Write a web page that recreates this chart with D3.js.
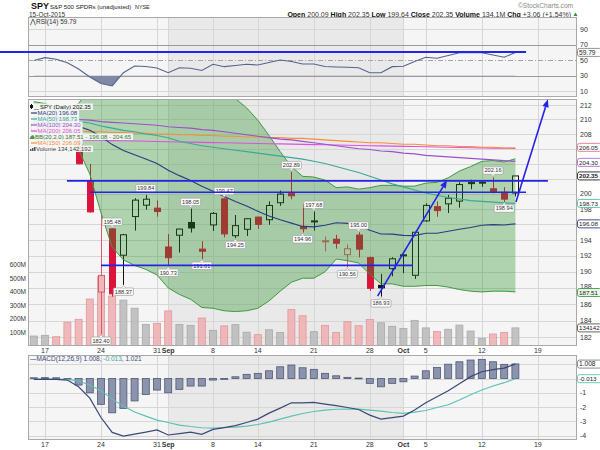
<!DOCTYPE html>
<html><head><meta charset="utf-8">
<script src="https://cdn.jsdelivr.net/npm/d3@7"></script>
<style>body{margin:0;background:#fff}svg{display:block;font-family:"Liberation Sans",Arial,sans-serif}</style>
</head><body><svg id="c" width="600" height="450"></svg>
<script>
// ---------------- DATA ----------------
const dates = ["2015-08-14","2015-08-17","2015-08-18","2015-08-19","2015-08-20","2015-08-21","2015-08-24","2015-08-25","2015-08-26","2015-08-27","2015-08-28","2015-08-31","2015-09-01","2015-09-02","2015-09-03","2015-09-04","2015-09-08","2015-09-09","2015-09-10","2015-09-11","2015-09-14","2015-09-15","2015-09-16","2015-09-17","2015-09-18","2015-09-21","2015-09-22","2015-09-23","2015-09-24","2015-09-25","2015-09-28","2015-09-29","2015-09-30","2015-10-01","2015-10-02","2015-10-05","2015-10-06","2015-10-07","2015-10-08","2015-10-09","2015-10-12","2015-10-13","2015-10-14","2015-10-15"];
const open  = [208.43,208.71,210.26,209.09,206.51,201.73,187.49,195.43,192.08,197.02,198.50,198.11,193.12,194.62,196.26,192.85,195.94,199.32,194.56,195.38,196.95,196.61,198.82,200.02,195.71,196.44,193.88,194.11,192.15,194.64,191.78,188.32,190.39,192.08,189.57,196.46,198.31,198.67,199.03,201.49,201.42,200.65,200.18,200.09];
const high  = [209.51,210.59,210.68,210.01,208.29,203.94,197.48,195.48,194.79,199.42,199.84,199.13,194.77,195.46,198.05,193.86,197.61,199.47,197.22,196.82,197.01,198.99,200.41,202.89,198.68,197.68,194.46,194.67,193.45,195.00,191.91,189.74,191.83,192.49,195.03,198.74,198.99,199.83,201.52,201.84,201.76,202.16,200.87,202.35];
const low   = [208.26,208.16,209.70,207.35,203.90,197.52,182.40,186.92,188.37,195.21,197.92,197.01,190.73,192.42,194.96,191.61,195.17,194.35,194.25,194.53,195.43,195.96,198.41,199.28,194.96,195.21,192.56,192.91,190.56,191.81,187.64,186.93,189.44,189.82,189.12,196.33,197.00,197.48,198.17,200.58,200.91,200.05,198.94,199.64];
const close = [209.42,210.59,209.98,208.28,203.97,197.63,189.55,187.27,194.68,199.16,199.28,197.67,191.77,195.41,195.55,192.59,197.43,194.79,195.85,196.74,196.01,198.46,199.95,199.73,195.45,196.46,193.91,193.60,192.90,192.85,187.95,188.01,191.63,192.13,195.00,198.47,197.79,199.41,201.21,201.33,201.52,200.25,199.29,202.35];
const closeBefore = 208.66;
const volumeM = [74,79,69,176,198,348,513,370,340,280,160,168,260,160,153,207,116,149,158,102,84,120,100,270,224,106,153,100,180,150,196,172,146,130,190,134,108,124,155,111,57,89,101,134.1];
const ma20  = [209.69,209.59,209.51,209.35,209.04,208.52,207.66,206.56,205.75,205.17,204.61,204.00,203.12,202.39,201.75,200.98,200.32,199.63,198.98,198.38,197.71,197.10,196.60,196.17,195.75,195.69,195.91,196.22,196.14,195.82,195.25,194.77,194.76,194.60,194.57,194.87,194.88,195.12,195.38,195.61,195.89,195.98,195.94,196.08];
const ma50  = [209.9,209.9,209.9,209.8,209.7,209.5,209.1,208.8,208.5,208.3,208.0,207.8,207.5,207.0,206.7,206.4,206.2,206.0,205.8,205.6,205.4,205.2,205.0,204.8,204.6,204.3,204.0,203.6,203.2,202.8,202.3,201.8,201.3,200.9,200.5,200.1,199.8,199.5,199.3,199.1,199.0,198.9,198.8,198.73];
const ma100 = [210.3,210.2,210.2,210.1,210.0,209.9,209.7,209.6,209.5,209.4,209.3,209.2,209.0,208.9,208.8,208.6,208.5,208.3,208.1,207.9,207.7,207.5,207.3,207.2,207.0,206.8,206.6,206.4,206.2,206.0,205.9,205.7,205.6,205.4,205.3,205.1,205.0,204.9,204.8,204.7,204.6,204.5,204.4,204.30];
const ma150 = [208.5,208.5,208.5,208.4,208.4,208.3,208.3,208.2,208.2,208.1,208.1,208.0,208.0,207.9,207.9,207.8,207.8,207.7,207.7,207.6,207.6,207.5,207.5,207.4,207.4,207.3,207.2,207.1,207.0,206.9,206.8,206.8,206.7,206.6,206.6,206.5,206.4,206.4,206.3,206.3,206.2,206.2,206.1,206.09];
const ma200 = [207.3,207.28,207.25,207.22,207.2,207.17,207.14,207.1,207.07,207.04,207.01,206.98,206.95,206.92,206.89,206.86,206.83,206.8,206.77,206.74,206.71,206.68,206.65,206.62,206.59,206.56,206.53,206.5,206.47,206.44,206.41,206.38,206.35,206.32,206.29,206.26,206.23,206.2,206.17,206.14,206.11,206.08,206.06,206.05];
const bbUpper = [212.47,212.2,211.7,211.4,212.2,214.4,217.8,220.0,220.0,219.5,218.9,218.4,218.3,217.5,216.9,216.4,215.1,214.1,212.9,211.6,209.9,207.8,205.6,203.6,202.3,202.2,201.8,200.8,200.9,200.6,200.8,201.1,201.1,201.0,201.0,201.4,201.5,202.1,203.0,203.6,204.3,204.4,204.2,204.65];
const bbLower = [206.91,207.0,207.3,207.3,205.87,202.6,197.5,193.1,191.5,190.8,190.3,189.6,188.0,187.2,186.6,185.6,185.5,185.2,185.1,185.2,185.5,186.4,187.6,188.7,189.2,189.2,190.0,191.6,191.4,191.1,189.7,188.5,188.5,188.2,188.2,188.3,188.3,188.1,187.8,187.6,187.5,187.6,187.6,187.51];
const rsi14 = [49.4,53,50.9,46.4,38.4,28.1,19.7,16.5,33.6,42.3,41.6,39.7,33.6,40,39.3,36.5,44.5,41.4,42.9,44.5,43.5,46.8,50,48,44.8,44.8,41.6,41,40.6,40,33.6,33.6,41.4,41.9,48,53.5,52.2,55.8,59.4,59.4,59.4,56.5,53.5,59.79];
const macdLine = [-0.06,-0.04,-0.06,-0.11,-0.58,-1.37,-2.73,-3.77,-4.03,-3.89,-3.75,-3.6,-3.95,-3.85,-3.75,-3.9,-3.56,-3.43,-3.29,-3.08,-2.84,-2.42,-2.07,-1.70,-1.70,-1.67,-1.79,-1.90,-2.03,-2.17,-2.56,-2.84,-2.73,-2.63,-2.21,-1.69,-1.27,-0.85,-0.36,0.13,0.47,0.62,0.73,1.008];
const macdSignal = [-0.06,-0.06,-0.06,-0.06,-0.18,-0.46,-0.85,-1.44,-1.93,-2.35,-2.63,-2.91,-3.08,-3.26,-3.36,-3.44,-3.47,-3.43,-3.40,-3.33,-3.22,-3.05,-2.84,-2.63,-2.45,-2.31,-2.21,-2.15,-2.14,-2.14,-2.21,-2.28,-2.38,-2.44,-2.35,-2.24,-2.03,-1.83,-1.51,-1.13,-0.81,-0.53,-0.29,-0.013];
const macdHist = [0.05,0.06,0.05,-0.05,-0.46,-1.0,-1.81,-2.4,-2.09,-1.57,-1.12,-0.81,-1.0,-0.76,-0.53,-0.53,-0.11,-0.06,0.12,0.29,0.36,0.54,0.82,0.94,0.75,0.64,0.36,0.19,0.08,0.03,-0.34,-0.58,-0.34,-0.23,0.17,0.54,0.78,1.0,1.17,1.29,1.34,1.17,0.99,1.021];

const xTickIdx    = [1,6,11,12,16,20,25,30,33,35,40,45];
const xTickLabels = ["17","24","31","Sep","8","14","21","28","Oct","5","12","19"];
const monthIdx    = [12,33];
const priceTicks  = [182,184,186,188,190,192,194,196,198,200,202,204,206,208,210,212];
const priceTickLabelsShown = [182,184,186,188,190,192,194,198,200,208,210,212];
const volTicks    = [100,200,300,400,500,600];
const rsiTicks    = [10,30,50,70,90];
const macdTicks   = [-4,-3,-2,-1,0,1];
const macdTickLabelsShown = [-4,-3,-2,-1];

const pointLabels = [[7,195.48,"h"],[6,182.40,"l"],[8,188.37,"l"],[10,199.84,"h"],[14,198.05,"h"],[12,190.73,"l"],[15,191.61,"l"],[17,199.47,"h"],[18,194.25,"l"],[23,202.89,"h"],[24,194.96,"l"],[25,197.68,"h"],[28,190.56,"l"],[29,195.00,"h"],[31,186.93,"l"],[41,202.16,"h"],[42,198.94,"l"]];

// user-drawn annotations in data space (index, price)
const levelLines = [[2.96,45.9,201.7],[5.0,43.95,200.2],[6.0,33.85,190.8]];
const trendArrows = [[30.7,187.0,36.9,201.8],[43.05,198.9,45.9,212.8]];
const rsiLevel = [-3.02,43.95,60.3];

const headerLabels = ["Open","High","Low","Close","Volume","Chg"];
const headerValues = ["200.09","202.35","199.64","202.35","134.1M","+3.06 (+1.54%)"];

const legendTexts = ["SPY (Daily) 202.35","MA(20) 196.08","MA(50) 198.73","MA(100) 204.30","MA(200) 206.05","BB(20,2.0) 187.51 - 196.08 - 204.65","MA(150) 206.09","Volume 134,142,192"];

// ---------------- STYLE ----------------
const C = {ma20:"#2e3b80",ma50:"#3aa898",ma100:"#9a52cc",ma200:"#e24fe0",ma150:"#ff8a3a",bb:"#3f9a3f",
  red:"#dc143c",redHollow:"#d85a6c",blue:"#2424e8",txt:"#333"};

const svg = d3.select("#c");
const L=28, R=577;
const P = {rsi:[17,97], price:[99,346], macd:[355,440]};
const x  = d3.scaleLinear().domain([0,45]).range([33.8,537.8]);
const yP = d3.scaleLog().domain([182,212]).range([337.3,105]);
const yV = d3.scaleLinear().domain([0,600]).range([346,265]);
const yR = d3.scaleLinear().domain([10,90]).range([91,29]);
const yM = d3.scaleLinear().domain([-4,1]).range([435.7,364.2]);
const idx = d3.range(dates.length);

function panelBg(top,bot){
  svg.append("rect").attr("x",L).attr("y",top).attr("width",R-L).attr("height",bot-top).attr("fill","#f5f5f5");
  svg.append("rect").attr("x",x(monthIdx[0])).attr("y",top).attr("width",x(monthIdx[1])-x(monthIdx[0])).attr("height",bot-top).attr("fill","#e9e9e9");
  xTickIdx.forEach(k=>{
    const xx=Math.round(x(k))+0.5;
    svg.append("line").attr("x1",xx).attr("x2",xx).attr("y1",top).attr("y2",bot).attr("stroke","#d6d6d6");
  });
}
function hGrid(y,col,dash){
  const yy=Math.round(y)+0.5;
  const l=svg.append("line").attr("x1",L).attr("x2",R).attr("y1",yy).attr("y2",yy).attr("stroke",col||"#d6d6d6");
  if(dash) l.attr("stroke-dasharray",dash);
}
function border(top,bot){
  svg.append("rect").attr("x",L+0.5).attr("y",top+0.5).attr("width",R-L-1).attr("height",bot-top-1).attr("fill","none").attr("stroke","#a9a9a9");
}
function rightTick(y,t,dy){
  svg.append("text").attr("x",580).attr("y",y+2.5+(dy||0)).attr("font-size",7).attr("fill",C.txt).text(t);
}
function valueBox(y,t,stroke,bold,fill){
  svg.append("rect").attr("x",577.5).attr("y",y-4).attr("width",24).attr("height",8).attr("rx",2)
    .attr("fill",fill||"#fff").attr("stroke",stroke).attr("stroke-width",0.9);
  svg.append("text").attr("x",579).attr("y",y+2.3).attr("font-size",t.length>5?6.2:6.6).attr("fill","#222")
    .attr("font-weight",bold?"bold":"normal").text(t);
}

// ---------------- HEADER ----------------
svg.append("text").attr("x",31).attr("y",9).attr("font-size",9).attr("font-weight","bold").attr("fill","#111").text("SPY");
svg.append("text").attr("x",50).attr("y",9).attr("font-size",6.1).attr("fill","#222").text("S&P 500 SPDRs (unadjusted)");
svg.append("text").attr("x",135).attr("y",9).attr("font-size",5.4).attr("fill","#222").text("NYSE");
svg.append("text").attr("x",518).attr("y",8).attr("font-size",6.6).attr("fill","#888").text("©StockCharts.com");
const hdr = svg.append("text").attr("x",571).attr("y",16.5).attr("text-anchor","end").attr("font-size",7).attr("fill","#111");
headerLabels.forEach((lab,i)=>{
  hdr.append("tspan").attr("font-weight","bold").text((i?" ":"")+lab+" ");
  hdr.append("tspan").attr("fill","#333").text(headerValues[i]);
});
svg.append("path").attr("d","M573.5,16 L575.5,12.5 L577.5,16 Z").attr("fill","#2a9a2a");

// ---------------- RSI PANEL ----------------
panelBg(P.rsi[0],P.rsi[1]);
hGrid(yR(90)); hGrid(yR(10));
hGrid(yR(70),"#9a9a9a"); hGrid(yR(30),"#9a9a9a"); hGrid(yR(50),"#a5a5a5","5,2,1,2");
svg.append("clipPath").attr("id","rsiLow").append("rect").attr("x",L).attr("y",yR(30)).attr("width",R-L).attr("height",P.rsi[1]-yR(30));
svg.append("path").datum(rsi14).attr("clip-path","url(#rsiLow)")
  .attr("d",d3.area().x((d,k)=>x(k)).y0(yR(30)).y1(d=>yR(d))).attr("fill","#7f89a5");
svg.append("path").datum(rsi14).attr("d",d3.line().x((d,k)=>x(k)).y(d=>yR(d)))
  .attr("fill","none").attr("stroke","#56648c").attr("stroke-width",1.1);
border(P.rsi[0],P.rsi[1]);
svg.append("text").attr("x",30).attr("y",23.5).attr("font-size",6.5).attr("fill","#333").text("⋀RSI(14) 59.79");
svg.append("text").attr("x",29).attr("y",16.5).attr("font-size",6.5).attr("fill","#333").text("15-Oct-2015");
rsiTicks.forEach(t=>rightTick(yR(t),t));
valueBox(yR(rsi14[rsi14.length-1]),"59.79","#8a8a8a");

// ---------------- PRICE PANEL ----------------
panelBg(P.price[0],P.price[1]);
priceTicks.forEach(t=>hGrid(yP(t)));
svg.append("clipPath").attr("id","pclip").append("rect").attr("x",L).attr("y",P.price[0]).attr("width",R-L).attr("height",P.price[1]-P.price[0]);
const gp = svg.append("g").attr("clip-path","url(#pclip)");
// volume
idx.forEach(k=>{
  const prev = k? close[k-1] : closeBefore;
  const dn = close[k] < prev;
  gp.append("rect").attr("x",x(k)-3.5).attr("y",yV(volumeM[k])).attr("width",7).attr("height",yV(0)-yV(volumeM[k]))
    .attr("fill",dn?"#efb3b5":"#bdbdbd").attr("stroke",dn?"#e38e92":"#a2a2a2").attr("stroke-width",0.8).attr("opacity",0.9);
});
// candles
idx.forEach(k=>{
  const prev = k? close[k-1] : closeBefore;
  const hollow = close[k] >= open[k];
  const col = close[k] >= prev ? "#111" : (hollow ? C.redHollow : C.red);
  const cx = Math.round(x(k))+0.5;
  const yT = yP(Math.max(open[k],close[k])), yB = yP(Math.min(open[k],close[k]));
  gp.append("line").attr("x1",cx).attr("x2",cx).attr("y1",yP(high[k])).attr("y2",yT).attr("stroke",col);
  gp.append("line").attr("x1",cx).attr("x2",cx).attr("y1",yB).attr("y2",yP(low[k])).attr("stroke",col);
  gp.append("rect").attr("x",cx-3).attr("y",yT).attr("width",6).attr("height",Math.max(1,yB-yT))
    .attr("fill",hollow?"none":col).attr("stroke",col).attr("stroke-width",1);
});
// Bollinger
gp.append("path").datum(idx).attr("d",d3.area().x(k=>x(k)).y0(k=>yP(bbLower[k])).y1(k=>yP(bbUpper[k])))
  .attr("fill","rgb(34,139,34)").attr("fill-opacity",0.33);
[bbUpper,bbLower].forEach(s=>gp.append("path").datum(s).attr("d",d3.line().x((d,k)=>x(k)).y(d=>yP(d)))
  .attr("fill","none").attr("stroke",C.bb).attr("stroke-width",1));
// MAs
[[ma200,C.ma200],[ma150,C.ma150],[ma100,C.ma100],[ma50,C.ma50],[ma20,C.ma20]].forEach(([s,c])=>
  gp.append("path").datum(s).attr("d",d3.line().x((d,k)=>x(k)).y(d=>yP(d)))
   .attr("fill","none").attr("stroke",c).attr("stroke-width",1.1));
// point labels
pointLabels.forEach(([k,v,side])=>{
  const cx=x(k), yv=yP(v);
  const w=20, h=7.5;
  const by = side==="h" ? yv-3-h : yv+3;
  const g=svg.append("g");
  g.append("rect").attr("x",cx-w/2).attr("y",by).attr("width",w).attr("height",h).attr("rx",1.2)
    .attr("fill","#fbfbfb").attr("stroke","#a0a0a0").attr("stroke-width",0.7);
  const ty = side==="h" ? by+h : by;
  const tip = side==="h" ? yv-0.8 : yv+0.8;
  g.append("path").attr("d",`M${cx-2},${ty} L${cx},${tip} L${cx+2},${ty}`).attr("fill","#fbfbfb").attr("stroke","#a0a0a0").attr("stroke-width",0.7);
  g.append("text").attr("x",cx).attr("y",by+5.6).attr("text-anchor","middle").attr("font-size",5.6).attr("fill","#333").text(v.toFixed(2));
});
border(P.price[0],P.price[1]);

// legend
const legColors=["#111",C.ma20,C.ma50,C.ma100,C.ma200,"#2e7d32",C.ma150,"#444"];
legendTexts.forEach((t,i)=>{
  const by=109+i*6;
  const tx = (i===0)?40:(i===5?35:(i===7?36:37.5));
  const g = svg.append("g");
  const te = g.append("text").attr("x",tx).attr("y",by).attr("font-size",6).attr("fill",legColors[i]).text(t);
  const w = te.node().getComputedTextLength();
  g.insert("rect",":first-child").attr("x",L+1).attr("y",by-5.5).attr("width",tx-L+w+1).attr("height",6.5)
    .attr("fill","#f6f6f6").attr("opacity",0.92);
  if(i===0){
    g.append("line").attr("x1",31.5).attr("x2",31.5).attr("y1",by-5).attr("y2",by).attr("stroke","#111");
    g.append("rect").attr("x",30).attr("y",by-4).attr("width",3).attr("height",3).attr("fill","#111");
    g.append("line").attr("x1",34).attr("x2",39).attr("y1",by+0.5).attr("y2",by+0.5).attr("stroke","#111").attr("stroke-width",0.7);
  } else if(i===5){
    g.append("path").attr("d",`M29.5,${by} L31,${by-3} L33,${by-4} L34.5,${by-2} L34.5,${by} Z`).attr("fill","#4a9a4a");
  } else if(i===7){
    [30,32,34].forEach((xx,j)=>g.append("rect").attr("x",xx).attr("y",by-2-j).attr("width",1.5).attr("height",2+j).attr("fill","#555"));
  } else {
    g.append("line").attr("x1",31).attr("x2",37).attr("y1",by-2).attr("y2",by-2).attr("stroke",legColors[i]).attr("stroke-width",1.2);
  }
});
// volume axis labels
volTicks.forEach(t=>svg.append("text").attr("x",26).attr("y",yV(t)+2.3).attr("text-anchor","end").attr("font-size",6.5).attr("fill",C.txt).text(t+"M"));
// price ticks (those not hidden by value boxes)
priceTickLabelsShown.forEach(t=>rightTick(yP(t),t,t===188?-1.6:0));
const n=dates.length-1;
valueBox(yP(ma200[n])-1,"206.05","#ef6e8e");
valueBox(yP(ma100[n])+1,"204.30","#b066d6");
valueBox(yP(close[n]),"202.35","#222",true);
valueBox(yP(ma50[n]),"198.73","#58b8aa");
valueBox(yP(ma20[n]),"196.08","#2e3b80");
valueBox(yP(bbLower[n])+0.6,"187.51","#3f9a3f",false,"#eaf5ea");
valueBox(yV(volumeM[n]),"134142","#555");

// middle x axis labels
xTickIdx.forEach((k,i)=>svg.append("text").attr("x",x(k)).attr("y",353).attr("text-anchor","middle").attr("font-size",7)
  .attr("font-weight",monthIdx.includes(k)?"bold":"normal").attr("fill",C.txt).text(xTickLabels[i]));

// ---------------- MACD PANEL ----------------
panelBg(P.macd[0],P.macd[1]);
macdTicks.forEach(t=>hGrid(yM(t)));
idx.forEach(k=>{
  const v=macdHist[k];
  const y0=yM(0), y1=yM(v);
  svg.append("rect").attr("x",x(k)-3.5).attr("y",Math.min(y0,y1)).attr("width",7).attr("height",Math.max(0.8,Math.abs(y1-y0)))
    .attr("fill","#8b93ad").attr("stroke","#4f5878").attr("stroke-width",0.8);
});
svg.append("path").datum(macdSignal).attr("d",d3.line().x((d,k)=>x(k)).y(d=>yM(d))).attr("fill","none").attr("stroke","#5cc2b2").attr("stroke-width",1.1);
svg.append("path").datum(macdLine).attr("d",d3.line().x((d,k)=>x(k)).y(d=>yM(d))).attr("fill","none").attr("stroke","#3b4878").attr("stroke-width",1.2);
border(P.macd[0],P.macd[1]);
const ml = svg.append("text").attr("x",30).attr("y",360.5).attr("font-size",6.5).attr("fill","#3b4878");
ml.append("tspan").text("—MACD(12,26,9) 1.008, ");
ml.append("tspan").attr("fill","#3aa898").text("-0.013");
ml.append("tspan").text(", 1.021");
macdTickLabelsShown.forEach(t=>rightTick(yM(t),t));
valueBox(yM(macdLine[n]),"1.008","#7a7a8a");
valueBox(yM(macdSignal[n]),"-0.013","#5cc2b2");
xTickIdx.forEach((k,i)=>svg.append("text").attr("x",x(k)).attr("y",446.5).attr("text-anchor","middle").attr("font-size",7)
  .attr("font-weight",monthIdx.includes(k)?"bold":"normal").attr("fill",C.txt).text(xTickLabels[i]));

// ---------------- ANNOTATIONS ----------------
levelLines.forEach(([a,b,p])=>svg.append("line").attr("x1",x(a)).attr("x2",x(b)).attr("y1",yP(p)).attr("y2",yP(p))
  .attr("stroke",C.blue).attr("stroke-width",1.6));
svg.append("line").attr("x1",x(rsiLevel[0])).attr("x2",x(rsiLevel[1])).attr("y1",yR(rsiLevel[2])).attr("y2",yR(rsiLevel[2]))
  .attr("stroke",C.blue).attr("stroke-width",2);
trendArrows.forEach(([a,p,b,q])=>{
  const x1=x(a), y1=yP(p), x2=x(b), y2=yP(q);
  const ang=Math.atan2(y2-y1,x2-x1), len=8, wd=3.2;
  const bx=x2-len*Math.cos(ang), by=y2-len*Math.sin(ang);
  svg.append("line").attr("x1",x1).attr("y1",y1).attr("x2",bx).attr("y2",by).attr("stroke",C.blue).attr("stroke-width",1.6);
  svg.append("path").attr("d",`M${x2},${y2} L${bx+wd*Math.sin(ang)},${by-wd*Math.cos(ang)} L${bx-wd*Math.sin(ang)},${by+wd*Math.cos(ang)} Z`)
    .attr("fill",C.blue);
});
</script></body></html>
